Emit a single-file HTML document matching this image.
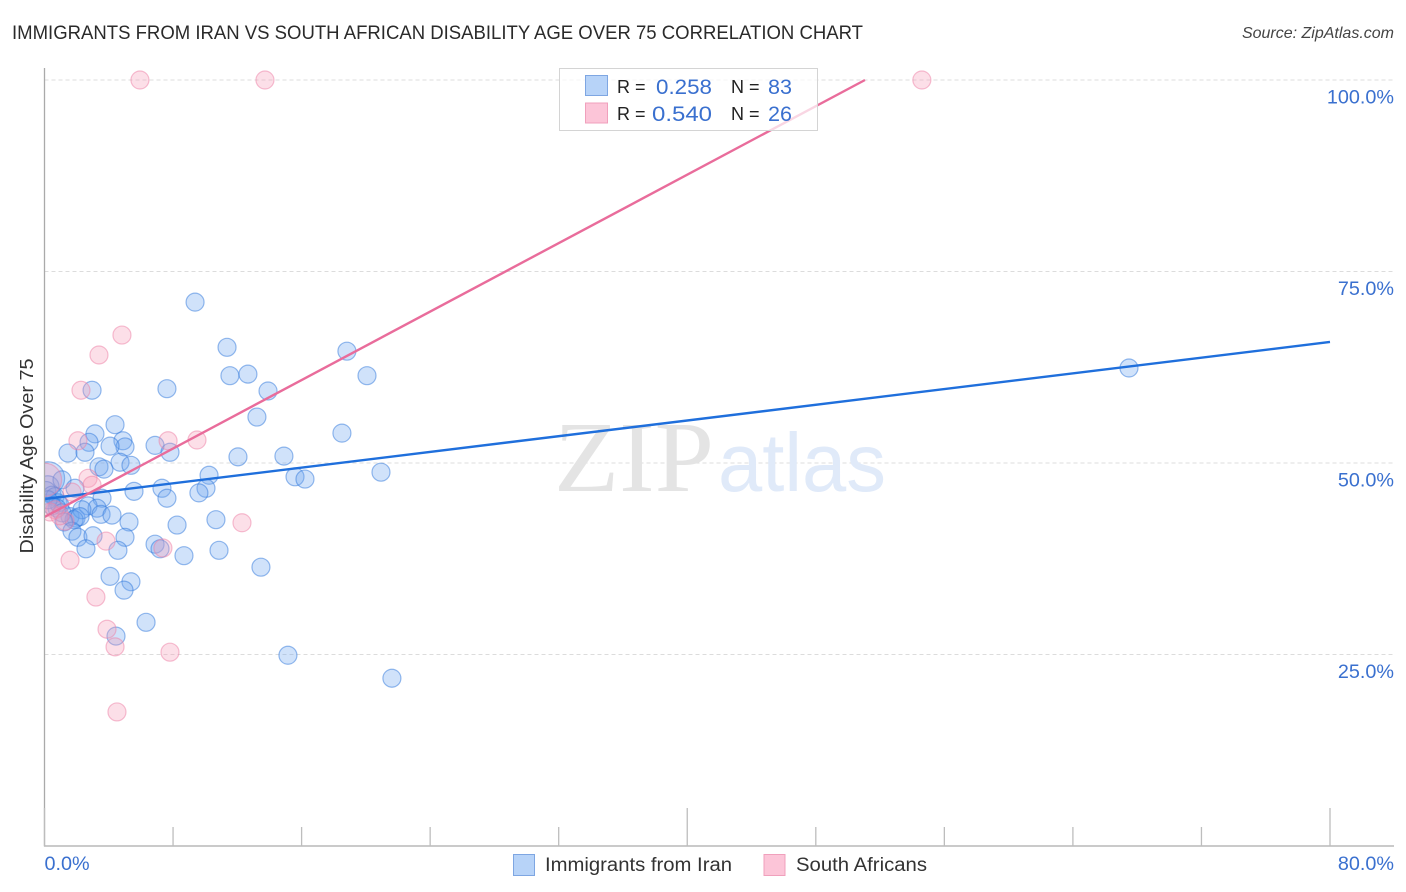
<!DOCTYPE html>
<html lang="en">
<head>
<meta charset="utf-8">
<title>Immigrants from Iran vs South African Disability Age Over 75 Correlation Chart</title>
<style>
html,body{margin:0;padding:0;background:#fff;}
svg{display:block;font-family:"Liberation Sans",sans-serif;}
</style>
</head>
<body>
<svg id="chart" xmlns="http://www.w3.org/2000/svg" width="1406" height="892" viewBox="0 0 1406 892">
  <defs>
    <clipPath id="plot-clip"><rect x="44.5" y="60" width="1350" height="786"/></clipPath>
  </defs>
  <text x="12" y="39" font-size="19.5" fill="#2a2a2a" textLength="851" lengthAdjust="spacingAndGlyphs">IMMIGRANTS FROM IRAN VS SOUTH AFRICAN DISABILITY AGE OVER 75 CORRELATION CHART</text>
  <text x="1394" y="38" font-size="16" font-style="italic" fill="#444" text-anchor="end">Source: ZipAtlas.com</text>
  <g id="grid"></g>
  <g>
    <text x="554" y="491" font-family="'Liberation Serif',serif" font-size="101" fill="#e4e4e4" textLength="160" lengthAdjust="spacingAndGlyphs">ZIP</text>
    <text x="718" y="491" font-size="83" fill="#e0eaf9" textLength="168" lengthAdjust="spacingAndGlyphs">atlas</text>
  </g>
  <g id="marks" clip-path="url(#plot-clip)"></g>
  <g id="trends" clip-path="url(#plot-clip)"></g>
  <g id="axes"></g>
  <text transform="translate(33,456) rotate(-90)" font-size="18" fill="#333" text-anchor="middle" textLength="195" lengthAdjust="spacingAndGlyphs">Disability Age Over 75</text>
  <g>
    <rect x="559.5" y="68.5" width="258" height="62" fill="#fff" fill-opacity="0.72" stroke="#d4d4d4" stroke-width="1"/>
    <rect x="585.5" y="75.5" width="22" height="20" fill="#b7d3f8" stroke="#7ea6e2"/>
    <rect x="585.5" y="103" width="22" height="20" fill="#fcc5d8" stroke="#f0a0bc"/>
    <text x="617" y="93" font-size="18" fill="#222">R =</text>
    <text x="656" y="94" font-size="21" fill="#3a70cf" textLength="56" lengthAdjust="spacingAndGlyphs">0.258</text>
    <text x="731" y="93" font-size="18" fill="#222">N =</text>
    <text x="768" y="94" font-size="21" fill="#3a70cf" textLength="24" lengthAdjust="spacingAndGlyphs">83</text>
    <text x="617" y="120" font-size="18" fill="#222">R =</text>
    <text x="652" y="121" font-size="21" fill="#3a70cf" textLength="60" lengthAdjust="spacingAndGlyphs">0.540</text>
    <text x="731" y="120" font-size="18" fill="#222">N =</text>
    <text x="768" y="121" font-size="21" fill="#3a70cf" textLength="24" lengthAdjust="spacingAndGlyphs">26</text>
  </g>
  <g>
    <rect x="513.5" y="854.5" width="21" height="21" fill="#b7d3f8" stroke="#7ea6e2"/>
    <text x="545" y="871" font-size="19" fill="#333" textLength="187" lengthAdjust="spacingAndGlyphs">Immigrants from Iran</text>
    <rect x="764" y="854.5" width="21" height="21" fill="#fcc5d8" stroke="#f0a0bc"/>
    <text x="796" y="871" font-size="19" fill="#333" textLength="131" lengthAdjust="spacingAndGlyphs">South Africans</text>
  </g>
</svg>
<script>
const yTickValues = [25, 50, 75, 100];
const yTickLabels = ["25.0%", "50.0%", "75.0%", "100.0%"];
const xTickValues = [0, 8, 16, 24, 32, 40, 48, 56, 64, 72, 80];
const xEndValues = [0, 80];
const xEndLabels = ["0.0%", "80.0%"];

const blueX = [0.22,0.22,0.09,0.47,0.65,0.84,0.96,0.78,1.09,1.90,0.22,0.47,1.59,1.09,1.96,
  9.37,11.36,18.82,20.07,12.66,11.54,13.91,7.62,2.96,13.22,4.39,18.51,3.14,2.77,4.88,6.88,5.01,4.08,7.81,1.46,2.52,12.04,14.90,4.70,5.38,3.39,3.70,20.94,15.59,16.21,10.24,7.31,10.05,5.57,9.61,7.62,3.58,2.71,3.27,3.52,2.33,4.20,1.84,2.21,10.67,5.26,8.25,1.21,1.71,2.08,3.02,5.01,6.88,2.58,4.57,7.19,10.86,8.68,13.47,4.08,5.38,4.95,6.32,4.45,15.15,21.62,67.49];
const blueY = [48.0,46.9,46.3,45.8,45.6,44.8,44.5,44.1,47.8,46.7,45.2,44.4,43.0,43.5,42.8,
  71.0,65.1,64.6,61.4,61.6,61.4,59.4,59.7,59.5,56.0,55.0,53.9,53.8,52.7,52.9,52.3,52.1,52.2,51.4,51.3,51.4,50.8,50.9,50.1,49.7,49.5,49.2,48.8,48.2,47.9,48.4,46.7,46.7,46.3,46.1,45.4,45.4,44.4,44.1,43.3,43.9,43.2,42.6,43.0,42.6,42.3,41.9,42.3,41.1,40.3,40.5,40.3,39.4,38.8,38.6,38.8,38.6,37.9,36.4,35.2,34.5,33.4,29.2,27.4,24.9,21.9,62.4];
const blueWeight = [3.4,1.5,1.2];

const pinkX = [0.03,0.65,0.34,1.28,0.96,5.94,13.72,54.6,4.82,3.39,2.27,2.08,7.69,9.49,2.71,2.96,1.71,12.29,3.83,7.37,1.59,3.20,3.89,4.39,7.81,4.51];
const pinkY = [47.8,43.9,43.6,42.4,43.1,100,100,100,66.7,64.1,59.5,52.9,52.9,53.0,48.0,47.1,46.2,42.2,39.8,38.9,37.3,32.5,28.3,26.0,25.3,17.5];
const pinkWeight = [3.4];

const blueTrendX = [0, 80];
const blueTrendY = [45.3, 65.8];
const pinkTrendX = [0, 51.06];
const pinkTrendY = [42.95, 100];

const NS = "http://www.w3.org/2000/svg";
function xScale(v) { return 44.5 + v * (1330 - 44.5) / 80; }
function yScale(v) { return 846 - v * 7.66; }
function make(parent, tag, attrs, txt) {
  const el = document.createElementNS(NS, tag);
  for (const k in attrs) el.setAttribute(k, attrs[k]);
  if (txt !== undefined) el.textContent = txt;
  parent.appendChild(el);
  return el;
}
const gridG = document.getElementById("grid");
const axesG = document.getElementById("axes");
const marksG = document.getElementById("marks");
const trendsG = document.getElementById("trends");

yTickValues.forEach(function (v, i) {
  const line = make(gridG, "line", {x1: 44.5, x2: 1394, y1: yScale(v), y2: yScale(v), stroke: "#dcdcdc", "stroke-width": 1, "stroke-dasharray": "4 3"});
  
  
  const label = make(axesG, "text", {x: 1394, y: yScale(v) + 23.5, "font-size": 19.8, fill: "#3a70cf", "text-anchor": "end"}, yTickLabels[i]);
  
  
});

const yAxisLine = make(axesG, "line", {x1: 44.5, x2: 44.5, y1: 68, y2: 846.5, stroke: "#aaa", "stroke-width": 1.3});


const xAxisLine = make(axesG, "line", {x1: 44, x2: 1394, y1: 846, y2: 846, stroke: "#aaa", "stroke-width": 1.3});



xTickValues.forEach(function (v) {
  const tall = v === 40 || v === 80 || v === 0;
  const tick = make(axesG, "line", {x1: xScale(v), x2: xScale(v), y1: tall ? 808 : 827, y2: 846, stroke: "#bdbdbd", "stroke-width": 1.3});
  
  
});

xEndValues.forEach(function (v, i) {
  const attrs = {x: i === 0 ? xScale(v) : 1394, y: 870, "font-size": 19.8, fill: "#3a70cf", "text-anchor": i === 0 ? "start" : "end"};
  const label = make(axesG, "text", attrs, xEndLabels[i]);
  
  
});

function drawSeries(xs, ys, weights, fill, stroke, name) {
  xs.forEach(function (xv, i) {
    const r = 9 * Math.sqrt(weights[i] || 1);
    const c = make(marksG, "circle", {cx: xScale(xv), cy: yScale(ys[i]), r: r, fill: fill, "fill-opacity": 0.32, stroke: stroke, "stroke-opacity": 0.5, "stroke-width": 1.2});
    
    
  });
}
drawSeries(blueX, blueY, blueWeight, "#6ea6ee", "#2f78dc", "iran-point");
drawSeries(pinkX, pinkY, pinkWeight, "#f59ab9", "#ee7fa6", "south-africans-point");

const blueTrend = make(trendsG, "line", {x1: xScale(blueTrendX[0]), y1: yScale(blueTrendY[0]), x2: xScale(blueTrendX[1]), y2: yScale(blueTrendY[1]), stroke: "#1f6fdc", "stroke-width": 2.4});


const pinkTrend = make(trendsG, "line", {x1: xScale(pinkTrendX[0]), y1: yScale(pinkTrendY[0]), x2: xScale(pinkTrendX[1]), y2: yScale(pinkTrendY[1]), stroke: "#e96c9b", "stroke-width": 2.4});


</script>
</body>
</html>
